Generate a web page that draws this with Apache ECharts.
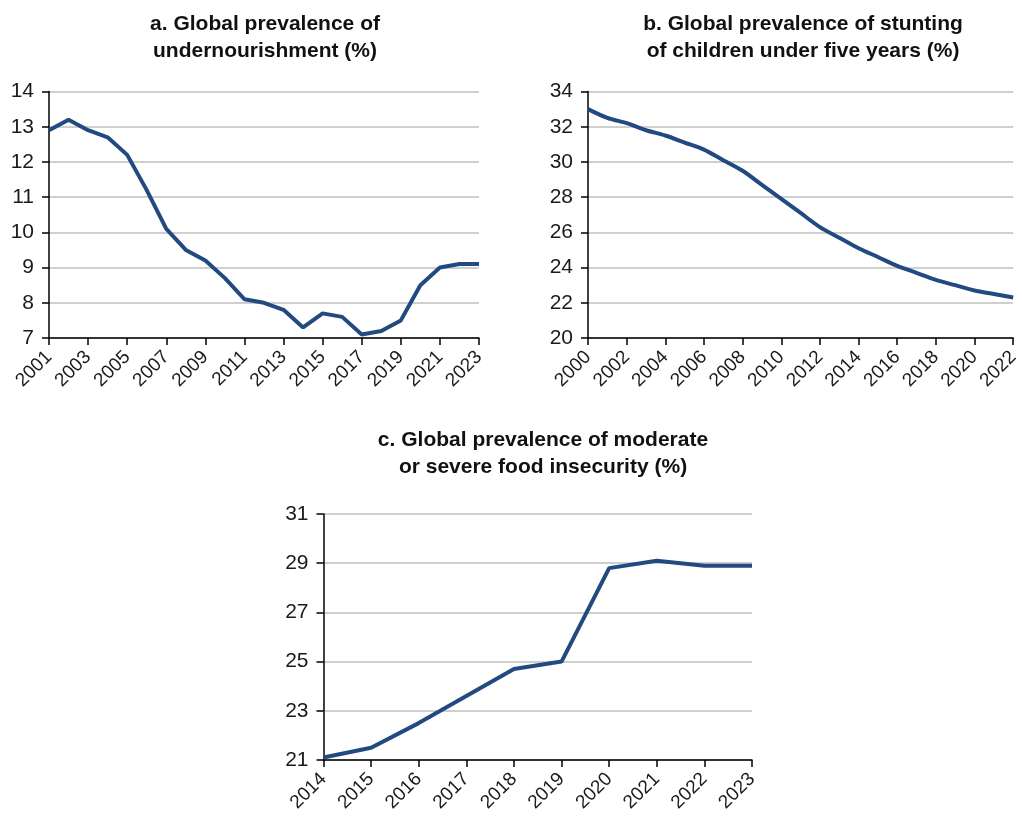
<!DOCTYPE html>
<html>
<head>
<meta charset="utf-8">
<script src="https://cdn.jsdelivr.net/npm/echarts@6/dist/echarts.min.js"></script>
<style>
html,body{margin:0;padding:0;background:#fff;}
#chart{width:1022px;height:816px;}
</style>
</head>
<body>
<div id="chart"></div>
<script>
// Panel a: undernourishment
const yearsA = ['2001','2002','2003','2004','2005','2006','2007','2008','2009','2010','2011','2012','2013','2014','2015','2016','2017','2018','2019','2020','2021','2022','2023'];
const valuesA = [12.9,13.2,12.9,12.7,12.2,11.2,10.1,9.5,9.2,8.7,8.1,8.0,7.8,7.3,7.7,7.6,7.1,7.2,7.5,8.5,9.0,9.1,9.1];
// Panel b: stunting
const yearsB = ['2000','2001','2002','2003','2004','2005','2006','2007','2008','2009','2010','2011','2012','2013','2014','2015','2016','2017','2018','2019','2020','2021','2022'];
const valuesB = [33.0,32.5,32.2,31.8,31.5,31.1,30.7,30.1,29.5,28.7,27.9,27.1,26.3,25.7,25.1,24.6,24.1,23.7,23.3,23.0,22.7,22.5,22.3];
// Panel c: food insecurity
const yearsC = ['2014','2015','2016','2017','2018','2019','2020','2021','2022','2023'];
const valuesC = [21.1,21.5,22.5,23.6,24.7,25.0,28.8,29.1,28.9,28.9];

const titles = [
  'a. Global prevalence of\nundernourishment (%)',
  'b. Global prevalence of stunting\nof children under five years (%)',
  'c. Global prevalence of moderate\nor severe food insecurity (%)'
];

const FONT = "'Liberation Sans Narrow', 'Liberation Sans', Arial, sans-serif";
const LINE = '#234a80';

function xAxis(idx, data, interval) {
  return {
    type: 'category', gridIndex: idx, data: data, boundaryGap: false,
    axisLine: {lineStyle: {color: '#000', width: 1.5}},
    axisTick: {show: true, length: 7, interval: interval, lineStyle: {color: '#000', width: 1.5}},
    axisLabel: {interval: interval, rotate: 45, margin: 16, fontFamily: FONT, fontSize: 19, color: '#1a1a1a'},
    splitLine: {show: false}
  };
}
function yAxis(idx, min, max, interval) {
  return {
    type: 'value', gridIndex: idx, min: min, max: max, interval: interval,
    axisLine: {show: true, lineStyle: {color: '#000', width: 1.5}},
    axisTick: {show: true, length: 7, lineStyle: {color: '#000', width: 1.5}},
    axisLabel: {margin: 15, fontFamily: FONT, fontSize: 21, color: '#1a1a1a'},
    splitLine: {show: true, lineStyle: {color: '#cfcfcf', width: 2}}
  };
}
function series(idx, data, smooth) {
  return {
    type: 'line', xAxisIndex: idx, yAxisIndex: idx, data: data, smooth: smooth,
    symbol: 'none', lineStyle: {color: LINE, width: 4}, animation: false
  };
}

const chart = echarts.init(document.getElementById('chart'), null, {renderer: 'canvas'});
chart.setOption({
  backgroundColor: '#fff',
  animation: false,
  grid: [
    {left: 49, right: 543, top: 91.5, bottom: 478},
    {left: 588, right: 5.5, top: 91.5, bottom: 478},
    {left: 323.5, right: 270, top: 514, bottom: 56}
  ],
  xAxis: [xAxis(0, yearsA, 1), xAxis(1, yearsB, 1), xAxis(2, yearsC, 0)],
  yAxis: [yAxis(0, 7, 14, 1), yAxis(1, 20, 34, 2), yAxis(2, 21, 31, 2)],
  series: [series(0, valuesA, false), series(1, valuesB, 0.3), series(2, valuesC, false)],
  graphic: [
    {type: 'text', x: 265, y: 11, style: {text: titles[0], align: 'center', font: "bold 21px " + FONT, lineHeight: 27, fill: '#111'}},
    {type: 'text', x: 803, y: 11, style: {text: titles[1], align: 'center', font: "bold 21px " + FONT, lineHeight: 27, fill: '#111'}},
    {type: 'text', x: 543, y: 427, style: {text: titles[2], align: 'center', font: "bold 21px " + FONT, lineHeight: 27, fill: '#111'}}
  ]
});
</script>
</body>
</html>
